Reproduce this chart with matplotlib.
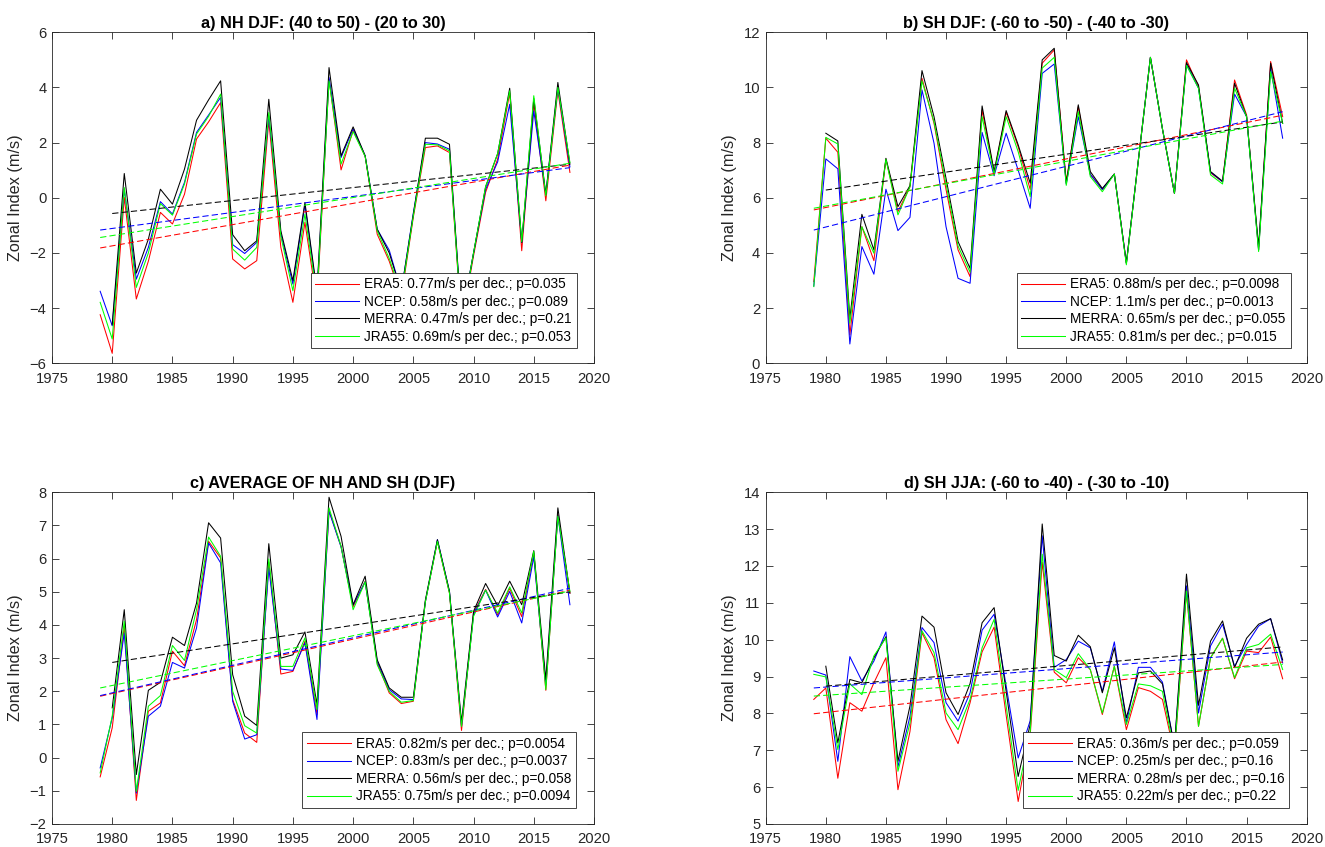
import numpy as np
import matplotlib.pyplot as plt

plt.rcParams['font.family'] = ['Liberation Sans', 'DejaVu Sans']

years = np.arange(1979, 2019)
years_merra = np.arange(1980, 2019)   # MERRA record starts in 1980

# ---- a) NH DJF: (40 to 50) - (20 to 30)
nh_era5 = [-4.24, -5.64, 0.01, -3.67, -2.3, -0.53, -0.95, 0.13, 2.13, 2.75,
           3.45, -2.22, -2.58, -2.28, 2.79, -1.8, -3.79, -0.89, -3.8, 4.3,
           1.01, 2.45, 1.5, -1.32, -2.3, -3.6, -0.7, 1.82, 1.88, 1.64,
           -4.6, -2.1, 0.2, 1.4, 3.8, -1.92, 3.45, -0.11, 3.88, 0.92]
nh_ncep = [-3.39, -4.64, 0.31, -2.95, -1.8, -0.14, -0.59, 0.56, 2.37, 3.0,
           3.64, -1.70, -2.02, -1.62, 2.97, -1.3, -3.13, -0.25, -3.5, 4.36,
           1.46, 2.5, 1.52, -1.14, -1.9, -3.4, -0.55, 2.0, 1.95, 1.76,
           -4.4, -2.0, 0.3, 1.3, 3.39, -1.62, 3.15, 0.13, 4.0, 1.12]
nh_merra = [-4.6, 0.88, -2.73, -1.5, 0.31, -0.23, 1.04, 2.81, 3.55,
            4.24, -1.34, -1.92, -1.56, 3.57, -1.2, -3.0, -0.17, -3.4, 4.72,
            1.52, 2.57, 1.52, -1.14, -2.0, -3.4, -0.6, 2.16, 2.16, 1.94,
            -4.4, -2.0, 0.4, 1.6, 3.97, -1.62, 3.6, 0.13, 4.18, 1.22]
nh_jra55 = [-3.79, -5.12, 0.37, -3.25, -2.0, -0.21, -0.63, 0.50, 2.31, 2.95,
            3.76, -1.86, -2.26, -1.80, 3.09, -1.4, -3.37, -0.59, -3.6, 4.24,
            1.22, 2.40, 1.5, -1.2, -2.2, -3.5, -0.65, 1.94, 1.92, 1.70,
            -4.5, -2.0, 0.4, 1.6, 3.88, -1.6, 3.7, 0.07, 4.0, 1.28]

# ---- b) SH DJF: (-60 to -50) - (-40 to -30)
sh_era5 = [2.96, 8.16, 7.65, 1.03, 4.95, 3.72, 7.40, 5.5, 6.40, 10.33,
           8.7, 6.3, 4.11, 3.14, 9.18, 6.9, 9.1, 7.85, 6.3, 10.88,
           11.36, 6.6, 9.3, 6.85, 6.3, 6.86, 3.63, 7.37, 11.09, 8.5,
           6.16, 11.0, 10.03, 6.9, 6.58, 10.27, 9.0, 4.11, 10.94, 8.94]
sh_ncep = [2.8, 7.41, 7.05, 0.70, 4.23, 3.23, 6.31, 4.81, 5.29, 9.91,
           7.98, 4.95, 3.08, 2.90, 8.37, 6.8, 8.34, 7.0, 5.62, 10.51,
           10.85, 6.5, 8.94, 6.85, 6.3, 6.86, 3.63, 7.37, 11.09, 8.5,
           6.16, 10.85, 9.97, 6.93, 6.58, 9.76, 8.94, 4.11, 10.7, 8.16]
sh_merra = [8.34, 8.06, 1.63, 5.40, 4.11, 7.43, 5.68, 6.44, 10.61,
            8.94, 6.7, 4.41, 3.44, 9.33, 6.95, 9.16, 7.92, 6.53, 11.0,
            11.42, 6.53, 9.37, 6.95, 6.34, 6.86, 3.63, 7.37, 11.09, 8.5,
            6.16, 10.9, 10.09, 6.95, 6.6, 10.15, 8.94, 4.23, 10.88, 8.7]
sh_jra55 = [2.78, 8.19, 7.95, 1.45, 4.95, 3.99, 7.40, 5.38, 6.40, 10.24,
            8.75, 6.5, 4.25, 3.3, 8.94, 6.85, 8.94, 7.67, 6.04, 10.7,
            11.09, 6.45, 9.12, 6.77, 6.22, 6.86, 3.57, 7.37, 11.09, 8.5,
            6.16, 10.8, 9.97, 6.83, 6.5, 9.97, 8.94, 4.05, 10.57, 8.7]

# ---- c) average of NH and SH (DJF)
avg_era5 = [-0.58, 0.9, 3.96, -1.29, 1.40, 1.65, 3.21, 2.77, 4.16, 6.52,
            6.02, 1.75, 0.74, 0.46, 5.89, 2.52, 2.60, 3.51, 1.3, 7.45,
            6.37, 4.55, 5.32, 2.85, 1.95, 1.63, 1.70, 4.7, 6.52, 4.96,
            0.82, 4.36, 5.07, 4.3, 5.1, 4.25, 6.17, 2.03, 7.33, 4.96]
avg_ncep = [-0.31, 1.2, 3.76, -1.07, 1.25, 1.55, 2.87, 2.70, 3.91, 6.47,
            5.87, 1.70, 0.56, 0.69, 5.72, 2.67, 2.63, 3.46, 1.15, 7.43,
            6.35, 4.6, 5.3, 2.9, 2.05, 1.77, 1.75, 4.7, 6.57, 5.01,
            0.95, 4.31, 5.05, 4.24, 5.01, 4.06, 6.05, 2.2, 7.30, 4.61]
avg_merra = [1.5, 4.46, -0.51, 2.03, 2.27, 3.63, 3.38, 4.66, 7.08,
             6.62, 2.50, 1.25, 0.97, 6.45, 3.0, 3.10, 3.79, 1.60, 7.85,
             6.67, 4.61, 5.47, 2.95, 2.10, 1.82, 1.82, 4.75, 6.57, 5.01,
             1.07, 4.41, 5.25, 4.58, 5.32, 4.61, 6.24, 2.35, 7.53, 4.96]
avg_jra55 = [-0.46, 1.25, 4.11, -1.02, 1.55, 1.87, 3.38, 2.93, 4.46, 6.65,
             6.07, 2.0, 0.96, 0.74, 5.99, 2.75, 2.75, 3.61, 1.45, 7.53,
             6.37, 4.46, 5.3, 2.80, 2.0, 1.67, 1.72, 4.7, 6.52, 4.96,
             0.94, 4.26, 5.05, 4.36, 5.15, 4.36, 6.22, 2.05, 7.28, 5.01]

# ---- d) SH JJA: (-60 to -40) - (-30 to -10)
jja_era5 = [8.38, 8.69, 6.24, 8.29, 8.06, 8.83, 9.51, 5.93, 7.51, 10.19,
            9.51, 7.83, 7.18, 8.29, 9.67, 10.34, 7.95, 5.61, 7.4, 12.1,
            9.12, 8.83, 9.51, 9.19, 7.97, 9.28, 7.56, 8.7, 8.6, 8.38,
            6.9, 11.28, 7.65, 9.51, 10.04, 8.94, 9.69, 9.65, 10.07, 8.94]
jja_ncep = [9.15, 9.04, 6.70, 9.54, 8.88, 9.42, 10.21, 6.55, 7.92, 10.33,
            9.92, 8.29, 7.79, 8.56, 10.26, 10.69, 8.75, 6.79, 7.8, 12.82,
            9.25, 9.46, 9.96, 9.78, 8.60, 9.94, 7.74, 9.25, 9.25, 8.85,
            7.1, 11.46, 8.01, 9.83, 10.42, 9.28, 9.87, 10.37, 10.57, 9.37]
jja_merra = [9.28, 7.20, 8.92, 8.83, 9.51, 10.08, 6.70, 8.20, 10.64,
             10.34, 8.56, 7.97, 8.81, 10.46, 10.87, 8.6, 6.29, 7.7, 13.14,
             9.57, 9.42, 10.12, 9.81, 8.56, 9.78, 7.88, 9.1, 9.15, 8.8,
             7.1, 11.78, 8.22, 9.96, 10.51, 9.24, 10.04, 10.42, 10.57, 9.45]
jja_jra55 = [9.06, 8.99, 7.02, 8.80, 8.51, 9.56, 10.05, 6.43, 7.74, 10.24,
             9.65, 8.01, 7.56, 8.38, 9.78, 10.55, 8.2, 5.91, 7.5, 12.32,
             9.19, 8.97, 9.62, 9.19, 8.01, 9.28, 7.70, 8.8, 8.75, 8.60,
             6.95, 11.32, 7.65, 9.51, 10.04, 8.97, 9.78, 9.87, 10.15, 9.19]

# linear trends: value at first year of each record, slope (m/s per decade), p-value
nh_trend_start = [-1.82, -1.17, -0.57, -1.44]
nh_slope = [0.77, 0.58, 0.47, 0.69]
nh_p = [0.035, 0.089, 0.21, 0.053]

sh_trend_start = [5.56, 4.83, 6.28, 5.62]
sh_slope = [0.88, 1.1, 0.65, 0.81]
sh_p = [0.0098, 0.0013, 0.055, 0.015]

avg_trend_start = [1.85, 1.87, 2.87, 2.10]
avg_slope = [0.82, 0.83, 0.56, 0.75]
avg_p = [0.0054, 0.0037, 0.058, 0.0094]

jja_trend_start = [7.99, 8.69, 8.74, 8.47]
jja_slope = [0.36, 0.25, 0.28, 0.22]
jja_p = [0.059, 0.16, 0.16, 0.22]

names = ['ERA5', 'NCEP', 'MERRA', 'JRA55']
colors = ['#ff0000', '#0000ff', '#000000', '#00ff00']

panels = [
    dict(title='a) NH DJF: (40 to 50) - (20 to 30)',
         series=[nh_era5, nh_ncep, nh_merra, nh_jra55],
         start=nh_trend_start, slope=nh_slope, p=nh_p,
         ylim=(-6, 6), ystep=2,
         pos=[52 / 1325, 0.5711, 542 / 1325, 0.3908], leg=(0.477, 0.045)),
    dict(title='b) SH DJF: (-60 to -50) - (-40 to -30)',
         series=[sh_era5, sh_ncep, sh_merra, sh_jra55],
         start=sh_trend_start, slope=sh_slope, p=sh_p,
         ylim=(0, 12), ystep=2,
         pos=[765.7 / 1325, 0.5711, 541 / 1325, 0.3908], leg=(0.464, 0.045)),
    dict(title='c) AVERAGE OF NH AND SH (DJF)',
         series=[avg_era5, avg_ncep, avg_merra, avg_jra55],
         start=avg_trend_start, slope=avg_slope, p=avg_p,
         ylim=(-2, 8), ystep=1,
         pos=[52 / 1325, 0.0272, 542 / 1325, 0.3916], leg=(0.462, 0.048)),
    dict(title='d) SH JJA: (-60 to -40) - (-30 to -10)',
         series=[jja_era5, jja_ncep, jja_merra, jja_jra55],
         start=jja_trend_start, slope=jja_slope, p=jja_p,
         ylim=(5, 14), ystep=1,
         pos=[765.7 / 1325, 0.0272, 541 / 1325, 0.3916], leg=(0.476, 0.048)),
]

fig = plt.figure(figsize=(13.25, 8.47), dpi=100)

for pnl in panels:
    ax = fig.add_axes(pnl['pos'])
    handles = []
    for k in range(4):
        x = years_merra if names[k] == 'MERRA' else years
        y = np.asarray(pnl['series'][k])
        h, = ax.plot(x, y, '-', color=colors[k], lw=0.75,
                     label=f"{names[k]}: {pnl['slope'][k]:g}m/s per dec.; p={pnl['p'][k]:g}")
        handles.append(h)
    for k in range(4):
        x = years_merra if names[k] == 'MERRA' else years
        fit = pnl['start'][k] + pnl['slope'][k] * (x - x[0]) / 10.0
        ax.plot(x, fit, '--', color=colors[k], lw=0.75, dashes=(6, 3))

    ax.set_xlim(1975, 2020)
    ax.set_xticks(np.arange(1975, 2021, 5))
    lo, hi = pnl['ylim']
    ax.set_ylim(lo, hi)
    ax.set_yticks(np.arange(lo, hi + 0.01, pnl['ystep']))
    ax.tick_params(direction='in', length=5, width=0.6, top=True, right=True,
                   labelsize=10.6, colors='0.15')
    ax.tick_params(axis='x', pad=6)
    ax.tick_params(axis='y', pad=4)
    for s in ax.spines.values():
        s.set_linewidth(0.6)
        s.set_color('0.15')
    ax.set_ylabel('Zonal Index (m/s)', fontsize=11.7, color='0.15', labelpad=5)
    ax.set_title(pnl['title'], fontsize=11.7, fontweight='bold', pad=3)

    leg = ax.legend(handles=handles, loc='lower left', bbox_to_anchor=pnl['leg'],
                    borderaxespad=0, fontsize=9.8, frameon=True, fancybox=False,
                    framealpha=1, edgecolor='0.15', handlelength=3.2,
                    handletextpad=0.4, labelspacing=0.25, borderpad=0.35)
    leg.get_frame().set_linewidth(0.6)

fig.savefig('out.png', dpi=100, facecolor='white')
